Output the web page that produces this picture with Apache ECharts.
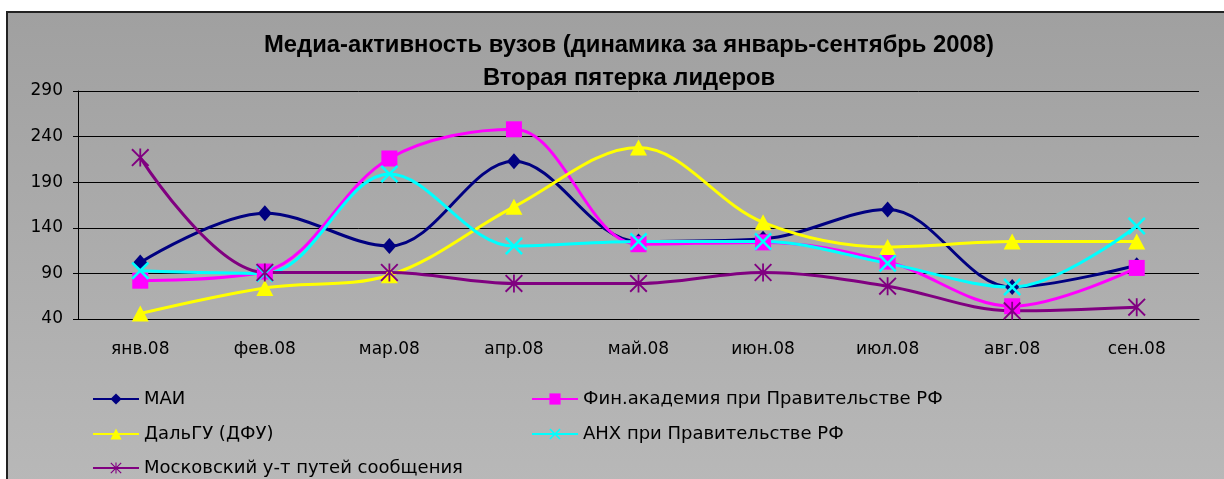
<!DOCTYPE html>
<html>
<head>
<meta charset="utf-8">
<script src="https://cdn.jsdelivr.net/npm/echarts@6/dist/echarts.min.js"></script>
<style>
  html, body { margin: 0; padding: 0; background: #fff; }
  #chart { width: 1224px; height: 479px; }
</style>
</head>
<body>
<div id="chart"></div>
<script>
const months = ["янв.08", "фев.08", "мар.08", "апр.08", "май.08", "июн.08", "июл.08", "авг.08", "сен.08"];
const mai = [102, 156, 120, 213, 125, 128, 160, 75, 99];
const finAcademy = [82, 92, 216, 248, 122, 124, 103, 54, 96];
const dalGU = [46, 74, 88, 163, 228, 146, 119, 125, 125];
const anh = [93, 90, 199, 120, 125, 125, 101, 75, 142];
const miit = [217, 91, 91, 79, 79, 91, 76, 49, 53];

const crossPath = "path://M2,0 L10,8 L18,0 L20,2 L12,10 L20,18 L18,20 L10,12 L2,20 L0,18 L8,10 L0,2 Z";
const starPath = "path://M1.5,0 L10,8.5 L18.5,0 L20,1.5 L11.5,10 L20,18.5 L18.5,20 L10,11.5 L1.5,20 L0,18.5 L8.5,10 L0,1.5 Z M9,0 L11,0 L11,20 L9,20 Z";

const chart = echarts.init(document.getElementById("chart"));

function makeSeries(name, data, color, symbol, size) {
  return {
    name: name,
    type: "line",
    data: data,
    smooth: 0.35,
    symbol: symbol,
    symbolSize: size,
    showAllSymbol: true,
    lineStyle: { color: color, width: 3 },
    itemStyle: { color: color },
    emphasis: { disabled: true },
  };
}

// one legend per entry so the excel two-column layout stays put
function legendItem(left, centerY, name) {
  return {
    left: left,
    top: centerY - 10,
    padding: 0,
    itemWidth: 46,
    itemHeight: 14,
    data: [name],
    textStyle: { fontFamily: "DejaVu Sans", fontSize: 18, lineHeight: 20, color: "#000" },
  };
}

const option = {
  animation: false,
  textStyle: { fontFamily: "DejaVu Sans" },
  graphic: [
    {
      type: "rect",
      z: -100,
      shape: { x: 7, y: 12, width: 1240, height: 490 },
      style: {
        fill: new echarts.graphic.LinearGradient(0, 0, 0, 1, [
          { offset: 0, color: "#a0a0a0" },
          { offset: 1, color: "#b9b9b9" },
        ]),
        stroke: "#222",
        lineWidth: 2,
      },
    },
  ],
  title: {
    text: "Медиа-активность вузов (динамика за январь-сентябрь 2008)\nВторая пятерка лидеров",
    left: 624,
    top: 24,
    textAlign: "center",
    textStyle: {
      fontFamily: "Liberation Sans",
      fontWeight: "bold",
      fontSize: 23.8,
      lineHeight: 33,
      color: "#000",
    },
  },
  legend: [
    legendItem(92, 399, "МАИ"),
    legendItem(92, 434, "ДальГУ (ДФУ)"),
    legendItem(92, 468, "Московский у-т путей сообщения"),
    legendItem(531, 399, "Фин.академия при Правительстве РФ"),
    legendItem(531, 434, "АНХ при Правительстве РФ"),
  ],
  grid: { left: 78, right: 25, top: 91, bottom: 160 },
  xAxis: {
    type: "category",
    data: months,
    boundaryGap: true,
    axisLine: { lineStyle: { color: "#000", width: 1 } },
    axisTick: { length: 5, lineStyle: { color: "#000" } },
    axisLabel: { color: "#000", fontSize: 17, margin: 22 },
  },
  yAxis: {
    type: "value",
    min: 40,
    max: 290,
    interval: 50,
    axisLine: { show: true, lineStyle: { color: "#000", width: 1 } },
    axisTick: { show: true, length: 5, lineStyle: { color: "#000" } },
    axisLabel: { color: "#000", fontSize: 17, margin: 15 },
    splitLine: { lineStyle: { color: "#000", width: 1 } },
  },
  series: [
    makeSeries("МАИ", mai, "#000080", "diamond", [14, 16]),
    makeSeries("Фин.академия при Правительстве РФ", finAcademy, "#ff00ff", "rect", 16),
    makeSeries("ДальГУ (ДФУ)", dalGU, "#ffff00", "triangle", [17, 16]),
    makeSeries("АНХ при Правительстве РФ", anh, "#00ffff", crossPath, 18),
    makeSeries("Московский у-т путей сообщения", miit, "#800080", starPath, 18),
  ],
};

chart.setOption(option);
</script>
</body>
</html>
